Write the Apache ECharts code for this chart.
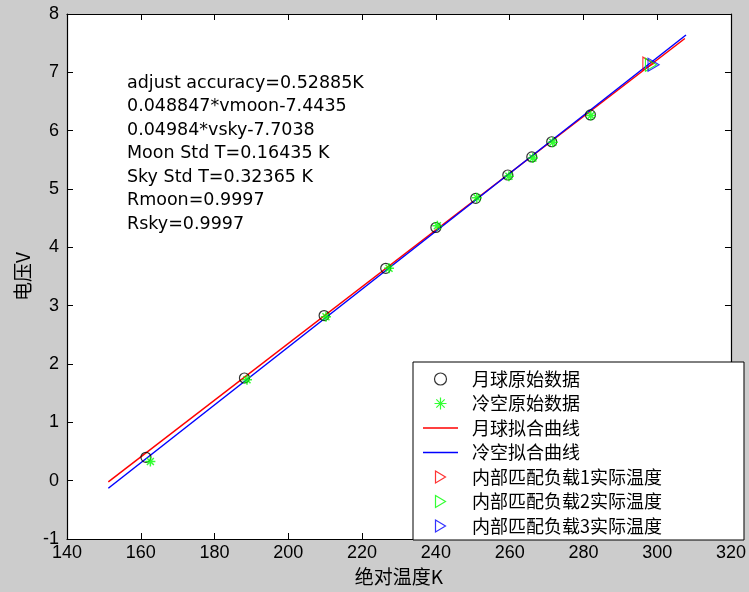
<!DOCTYPE html>
<html>
<head>
<meta charset="utf-8">
<script src="https://cdn.jsdelivr.net/npm/echarts@6/dist/echarts.min.js"></script>
<style>
html,body{margin:0;padding:0;background:#cccccc;}
#main{width:749px;height:592px;}
</style>
</head>
<body>
<div id="main"></div>
<script>
// ---- data ----
const seriesNames = ['月球原始数据', '冷空原始数据', '月球拟合曲线', '冷空拟合曲线',
  '内部匹配负载1实际温度', '内部匹配负载2实际温度', '内部匹配负载3实际温度'];
const moonT = [161.4, 188.1, 209.7, 226.4, 240.0, 250.8, 259.5, 266.0, 271.4, 281.9];
const moonV = [0.40, 1.76, 2.83, 3.64, 4.34, 4.84, 5.24, 5.55, 5.81, 6.27];
const skyT = [162.6, 188.8, 210.2, 227.3, 240.4, 251.1, 259.8, 266.3, 271.7, 282.0];
const skyV = [0.33, 1.73, 2.81, 3.64, 4.37, 4.85, 5.22, 5.53, 5.80, 6.26];
const moonFitT = [151.2, 307.5];
const moonFitV = [-0.02, 7.58];
const skyFitT = [151.2, 307.8];
const skyFitV = [-0.13, 7.64];
const loadT = [297.6, 298.3, 299.0];
const loadV = [7.15, 7.13, 7.13];
const xRange = [140, 320, 20];
const yRange = [-1, 8, 1];
const xAxisName = '绝对温度K';
const yAxisName = '电压V';
const noteLines = ['adjust accuracy=0.52885K', '0.048847*vmoon-7.4435', '0.04984*vsky-7.7038',
  'Moon Std T=0.16435 K', 'Sky Std T=0.32365 K', 'Rmoon=0.9997', 'Rsky=0.9997'];

// ---- chart ----
const pairs = (xs, ys) => xs.map((x, i) => [x, ys[i]]);
const starPath = 'path://M5,0 L5,10 M0,5 L10,5 M1.5,1.5 L8.5,8.5 M8.5,1.5 L1.5,8.5';
const triPath = 'path://M0,0 L10,6 L0,12 Z';
const linePath = 'path://M0,0 L36,0 L36,1.4 L0,1.4 Z';
const triColors = ['#ff0000', '#00ff00', '#0000ff'];
const numFont = "'Liberation Sans', sans-serif";
const cjkFont = "'Noto Sans CJK SC', sans-serif";

function axisCommon(range) {
  return {
    type: 'value', min: range[0], max: range[1], interval: range[2],
    axisLine: { show: true, onZero: false, lineStyle: { color: '#000', width: 1.2 } },
    axisTick: { show: true, inside: true, length: 6, lineStyle: { color: '#000', width: 1 } },
    splitLine: { show: false }
  };
}

const chart = echarts.init(document.getElementById('main'));
const option = {
  animation: false,
  backgroundColor: '#cccccc',
  grid: { left: 67, right: 16, top: 14, bottom: 53, show: true, backgroundColor: '#ffffff', borderWidth: 0 },
  xAxis: [
    Object.assign(axisCommon(xRange), {
      position: 'bottom',
      name: xAxisName, nameLocation: 'middle', nameGap: 27,
      nameTextStyle: { fontFamily: cjkFont, fontSize: 19, color: '#000' },
      axisLabel: { margin: 5, fontFamily: numFont, fontSize: 18, color: '#000' }
    }),
    Object.assign(axisCommon(xRange), { position: 'top', axisLabel: { show: false } })
  ],
  yAxis: [
    Object.assign(axisCommon(yRange), {
      position: 'left',
      name: yAxisName, nameLocation: 'middle', nameGap: 34,
      nameTextStyle: { fontFamily: cjkFont, fontSize: 19, color: '#000' },
      axisLabel: { margin: 8, fontFamily: numFont, fontSize: 18, color: '#000' }
    }),
    Object.assign(axisCommon(yRange), { position: 'right', axisLabel: { show: false } })
  ],
  legend: {
    orient: 'vertical', left: 413, top: 362,
    padding: [8, 82, 5, 10],
    itemWidth: 35, itemHeight: 12, itemGap: 6.5,
    backgroundColor: '#ffffff', borderColor: '#000', borderWidth: 1, borderRadius: 0,
    selectedMode: false,
    itemStyle: { borderWidth: 1.2 },
    formatter: name => '{t|' + name + '}',
    textStyle: { fontFamily: cjkFont, fontSize: 18, lineHeight: 18, color: '#000',
      rich: { t: { fontFamily: cjkFont, fontSize: 18, lineHeight: 18, color: '#000', padding: [0, 0, 0, 9] } } },
    data: seriesNames.map((n, i) => (i === 2 || i === 3)
      ? { name: n, icon: linePath, itemStyle: { color: i === 2 ? '#ff0000' : '#0000ff', borderWidth: 0 } }
      : { name: n })
  },
  graphic: [{
    type: 'text', left: 127, top: 71.5, z: 10,
    style: { text: noteLines.join('\n'), font: "17.5px 'DejaVu Sans'", lineHeight: 23.5, fill: '#000' }
  }],
  series: [
    { name: seriesNames[2], type: 'line', data: pairs(moonFitT, moonFitV), symbol: 'none', z: 2,
      lineStyle: { color: '#ff0000', width: 1.5 }, itemStyle: { color: '#ff0000' } },
    { name: seriesNames[3], type: 'line', data: pairs(skyFitT, skyFitV), symbol: 'none', z: 2,
      lineStyle: { color: '#0000ff', width: 1.5 }, itemStyle: { color: '#0000ff' } },
    { name: seriesNames[0], type: 'scatter', data: pairs(moonT, moonV), symbol: 'circle', symbolSize: 10, z: 3,
      itemStyle: { color: 'transparent', borderColor: '#000', borderWidth: 1.2 } },
    { name: seriesNames[1], type: 'scatter', data: pairs(skyT, skyV), symbol: starPath, symbolSize: 10, z: 4,
      itemStyle: { color: 'transparent', borderColor: '#00ff00', borderWidth: 1.5 } }
  ].concat(loadT.map((t, i) => ({
    name: seriesNames[4 + i], type: 'scatter', data: [[t, loadV[i]]], symbol: triPath, symbolSize: [11, 13], z: 5,
    itemStyle: { color: 'transparent', borderColor: triColors[i], borderWidth: 1.2 }
  })))
};
chart.setOption(option);
</script>
</body>
</html>
